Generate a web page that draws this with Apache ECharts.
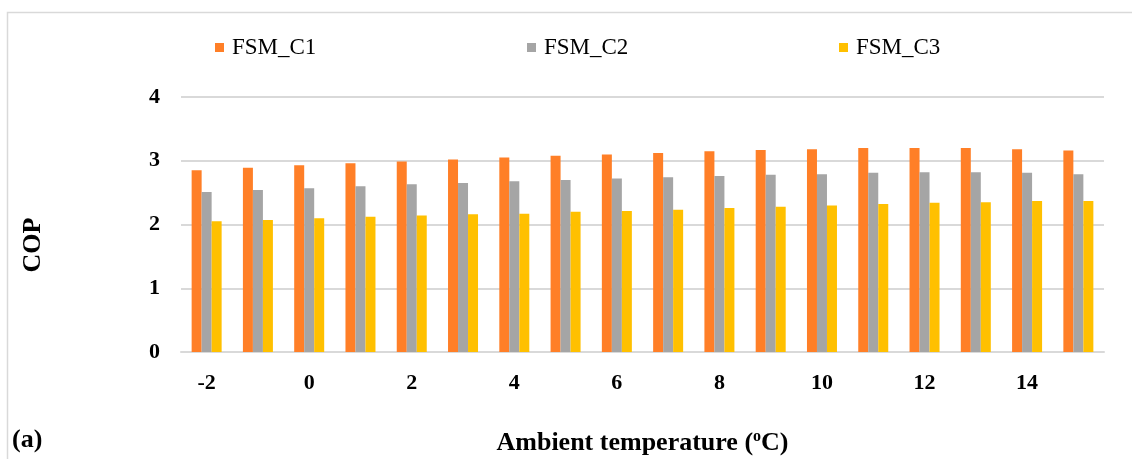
<!DOCTYPE html>
<html>
<head>
<meta charset="utf-8">
<script src="https://cdn.jsdelivr.net/npm/echarts@6/dist/echarts.min.js"></script>
<style>
  html, body {margin: 0; padding: 0; background: #fff;}
  #chart {width: 1132px; height: 459px;}
</style>
</head>
<body>
<div id="chart"></div>
<script>
const temps = ['-2', '-1', '0', '1', '2', '3', '4', '5', '6', '7', '8', '9', '10', '11', '12', '13', '14', '15']
const copC1 = [2.85, 2.89, 2.93, 2.96, 2.99, 3.02, 3.05, 3.08, 3.10, 3.12, 3.15, 3.17, 3.18, 3.20, 3.20, 3.20, 3.18, 3.16]
const copC2 = [2.51, 2.54, 2.57, 2.60, 2.63, 2.65, 2.68, 2.70, 2.72, 2.74, 2.76, 2.78, 2.79, 2.81, 2.82, 2.82, 2.81, 2.79]
const copC3 = [2.05, 2.07, 2.10, 2.12, 2.14, 2.16, 2.17, 2.20, 2.21, 2.23, 2.26, 2.28, 2.30, 2.32, 2.34, 2.35, 2.37, 2.37]
const yTicks = [0, 1, 2, 3, 4]

const serif = '"Liberation Serif", "Times New Roman", serif'
const colors = {c1: '#FF7F27', c2: '#A5A5A5', c3: '#FFC000'}

const chart = echarts.init(document.getElementById('chart'))

const legendAt = (name, left) => ({
  data: [name],
  left,
  top: 31,
  icon: 'rect',
  itemWidth: 9,
  itemHeight: 9,
  itemGap: 0,
  textStyle: {fontFamily: serif, fontSize: 23, color: '#000', padding: [0, 0, 0, 3]}
})

const bar = (name, data, color) => ({
  name,
  type: 'bar',
  data,
  barWidth: 10,
  barGap: '0%',
  itemStyle: {color},
  emphasis: {disabled: true}
})

chart.setOption({
  animation: false,
  backgroundColor: '#fff',
  legend: [
    legendAt('FSM_C1', 210),
    legendAt('FSM_C2', 522),
    legendAt('FSM_C3', 834)
  ],
  grid: {left: 181, right: 28, top: 97, bottom: 107, outerBoundsMode: 'none'},
  xAxis: {
    type: 'category',
    data: temps,
    name: '{n|Ambient temperature (}{s|o}{n|C)}',
    nameLocation: 'middle',
    nameGap: 77,
    nameTextStyle: {
      rich: {
        n: {fontFamily: serif, fontSize: 26, fontWeight: 'bold', color: '#000'},
        s: {fontFamily: serif, fontSize: 16, fontWeight: 'bold', color: '#000', padding: [0, 0, 12, 0]}
      }
    },
    axisLine: {lineStyle: {color: '#D9D9D9', width: 2}},
    axisTick: {show: false},
    axisLabel: {
      interval: 1,
      margin: 20,
      fontFamily: serif,
      fontSize: 22,
      fontWeight: 'bold',
      color: '#000'
    }
  },
  yAxis: {
    type: 'value',
    min: yTicks[0],
    max: yTicks[yTicks.length - 1],
    interval: 1,
    axisLine: {show: false},
    axisTick: {show: false},
    axisLabel: {margin: 21, fontFamily: serif, fontSize: 22, fontWeight: 'bold', color: '#000'},
    splitLine: {lineStyle: {color: '#D9D9D9', width: 2}}
  },
  graphic: [
    {
      type: 'rect',
      shape: {x: 7.5, y: 12.5, width: 1200, height: 500},
      style: {fill: 'none', stroke: '#D9D9D9', lineWidth: 1.5},
      silent: true,
      z: -10
    },
    {
      type: 'text',
      x: 33,
      y: 245,
      rotation: Math.PI / 2,
      style: {text: 'COP', font: 'bold 26px ' + serif, fill: '#000', align: 'center', verticalAlign: 'middle'}
    },
    {
      type: 'text',
      left: 12,
      top: 427,
      style: {text: '(a)', font: 'bold 26px ' + serif, fill: '#000'}
    }
  ],
  series: [
    bar('FSM_C1', copC1, colors.c1),
    bar('FSM_C2', copC2, colors.c2),
    bar('FSM_C3', copC3, colors.c3)
  ]
})
</script>
</body>
</html>
